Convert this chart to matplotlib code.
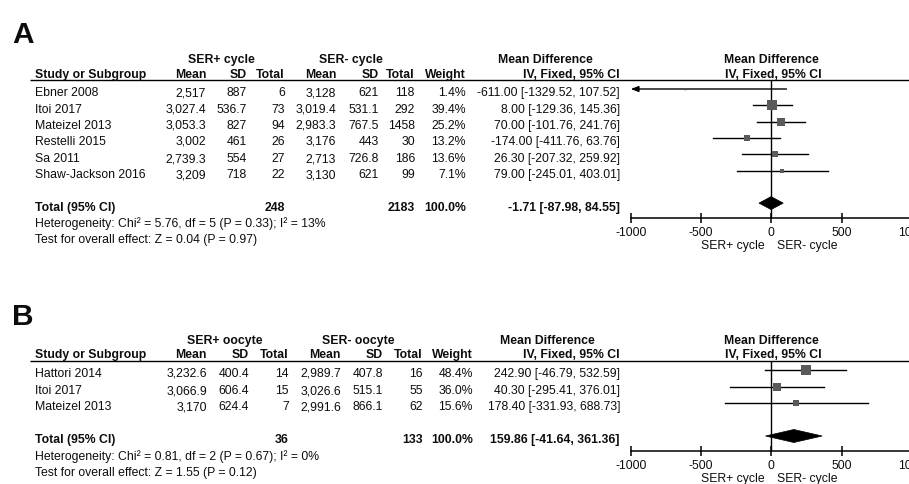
import matplotlib
matplotlib.use("Agg")
import matplotlib.pyplot as plt
from matplotlib.patches import Polygon

plt.rcParams['font.family'] = ['Liberation Sans', 'DejaVu Sans']

# ---------------- Panel A: SER+ vs SER- cycle ----------------
a_studies = ["Ebner 2008", "Itoi 2017", "Mateizel 2013", "Restelli 2015",
             "Sa 2011", "Shaw-Jackson 2016"]
a_mean_pos = [2517, 3027.4, 3053.3, 3002, 2739.3, 3209]
a_sd_pos = [887, 536.7, 827, 461, 554, 718]
a_n_pos = [6, 73, 94, 26, 27, 22]
a_mean_neg = [3128, 3019.4, 2983.3, 3176, 2713, 3130]
a_sd_neg = [621, 531.1, 767.5, 443, 726.8, 621]
a_n_neg = [118, 292, 1458, 30, 186, 99]
a_weight = [1.4, 39.4, 25.2, 13.2, 13.6, 7.1]
a_md = [-611.00, 8.00, 70.00, -174.00, 26.30, 79.00]
a_lo = [-1329.52, -129.36, -101.76, -411.76, -207.32, -245.01]
a_hi = [107.52, 145.36, 241.76, 63.76, 259.92, 403.01]
a_total_md = [-1.71, -87.98, 84.55]
a_total_n = [248, 2183]
a_groups = ["SER+ cycle", "SER- cycle"]
a_het = "Heterogeneity: Chi\u00b2 = 5.76, df = 5 (P = 0.33); I\u00b2 = 13%"
a_test = "Test for overall effect: Z = 0.04 (P = 0.97)"

# ---------------- Panel B: SER+ vs SER- oocyte ----------------
b_studies = ["Hattori 2014", "Itoi 2017", "Mateizel 2013"]
b_mean_pos = [3232.6, 3066.9, 3170]
b_sd_pos = [400.4, 606.4, 624.4]
b_n_pos = [14, 15, 7]
b_mean_neg = [2989.7, 3026.6, 2991.6]
b_sd_neg = [407.8, 515.1, 866.1]
b_n_neg = [16, 55, 62]
b_weight = [48.4, 36.0, 15.6]
b_md = [242.90, 40.30, 178.40]
b_lo = [-46.79, -295.41, -331.93]
b_hi = [532.59, 376.01, 688.73]
b_total_md = [159.86, -41.64, 361.36]
b_total_n = [36, 133]
b_groups = ["SER+ oocyte", "SER- oocyte"]
b_het = "Heterogeneity: Chi\u00b2 = 0.81, df = 2 (P = 0.67); I\u00b2 = 0%"
b_test = "Test for overall effect: Z = 1.55 (P = 0.12)"

x_ticks = [-1000, -500, 0, 500, 1000]
x_range = [-1000, 1000]
favours = ["SER+ cycle", "SER- cycle"]

W, H = 909, 484
FS = 8.8
SQUARE = "#5a5a5a"
INK = "#0d0d0d"


def num(v):
    if float(v).is_integer():
        return f"{v:,.0f}"
    return f"{v:,.1f}"


fig = plt.figure(figsize=(W / 100, H / 100), dpi=100)
bg = fig.add_axes([0, 0, 1, 1])
bg.set_xlim(0, W)
bg.set_ylim(H, 0)
bg.axis("off")


def txt(x, y, s, ha="right", bold=False, size=FS):
    # baselines snapped to whole pixels so neighbouring cells line up
    bg.text(x, round(y), s, ha=ha, va="baseline", fontsize=size,
            fontweight="bold" if bold else "normal", color=INK)


def panel(letter, letter_y, row0, step, cols, studies, mean_pos, sd_pos, n_pos,
          mean_neg, sd_neg, n_neg, weight, md, lo, hi, total_md, total_n,
          groups, het, test):
    off = 7.4
    txt(12, letter_y, letter, ha="left", bold=True, size=21.5)

    # group header and column header
    gy = row0 - 26
    hy = row0 - 11.5
    uy = row0 - 9.5
    txt(cols["g1"], gy, groups[0], ha="center", bold=True)
    txt(cols["g2"], gy, groups[1], ha="center", bold=True)
    txt(cols["mdh"], gy, "Mean Difference", ha="center", bold=True)
    txt(771, gy, "Mean Difference", ha="center", bold=True)
    txt(35, hy, "Study or Subgroup", ha="left", bold=True)
    for key, lab in [("m1", "Mean"), ("s1", "SD"), ("n1", "Total"),
                     ("m2", "Mean"), ("s2", "SD"), ("n2", "Total"),
                     ("w", "Weight"), ("ci", "IV, Fixed, 95% CI")]:
        txt(cols[key], hy, lab, bold=True)
    txt(773, hy, "IV, Fixed, 95% CI", ha="center", bold=True)
    bg.plot([30, W], [uy, uy], color="black", lw=1.0, solid_capstyle="butt")

    # study rows
    for i, name in enumerate(studies):
        y = row0 + step * i + off
        txt(35, y, name, ha="left")
        txt(cols["m1"], y, num(mean_pos[i]))
        txt(cols["s1"], y, num(sd_pos[i]))
        txt(cols["n1"], y, f"{n_pos[i]}")
        txt(cols["m2"], y, num(mean_neg[i]))
        txt(cols["s2"], y, num(sd_neg[i]))
        txt(cols["n2"], y, f"{n_neg[i]}")
        txt(cols["w"], y, f"{weight[i]:.1f}%")
        txt(cols["ci"], y, f"{md[i]:.2f} [{lo[i]:.2f}, {hi[i]:.2f}]")

    k = len(studies)
    ty = row0 + step * (k + 1)
    txt(35, ty + off, "Total (95% CI)", ha="left", bold=True)
    txt(cols["n1"], ty + off, f"{total_n[0]}", bold=True)
    txt(cols["n2"], ty + off, f"{total_n[1]}", bold=True)
    txt(cols["w"], ty + off, "100.0%", bold=True)
    txt(cols["ci"], ty + off,
        f"{total_md[0]:.2f} [{total_md[1]:.2f}, {total_md[2]:.2f}]", bold=True)
    txt(35, ty + step + off, het, ha="left")
    txt(35, ty + 2 * step + off, test, ha="left")

    # forest plot axes
    axis_y = ty + 0.9 * step
    x0, x1 = 630.7, 912.0
    ax = fig.add_axes([x0 / W, 1 - axis_y / H, (x1 - x0) / W, (axis_y - uy) / H])
    ax.set_xlim(*x_range)
    ax.set_ylim(axis_y, uy)
    ax.patch.set_alpha(0)
    for s in ["top", "left", "right"]:
        ax.spines[s].set_visible(False)
    ax.spines["bottom"].set_linewidth(1.1)
    ax.set_yticks([])
    ax.set_xticks(x_ticks)
    ax.set_xticklabels([f"{t}" for t in x_ticks])
    ax.tick_params(axis="x", direction="inout", length=7, width=1.1,
                   labelsize=FS, pad=3.2, labelcolor=INK)
    ax.axvline(0, color="black", lw=1.0, zorder=1)

    for i in range(k):
        y = row0 + step * i
        left = max(lo[i], x_range[0])
        if lo[i] < x_range[0]:
            ax.annotate("", xy=(x_range[0], y), xytext=(hi[i], y),
                        arrowprops=dict(arrowstyle="-|>,head_length=0.45,head_width=0.17",
                                        color="black", lw=1.0, shrinkA=0, shrinkB=0),
                        annotation_clip=False)
        else:
            ax.plot([left, hi[i]], [y, y], color="black", lw=1.0, zorder=2)
        side = 1.45 * weight[i] ** 0.5
        ax.plot([md[i]], [y], marker="s", ms=side * 0.72, color=SQUARE,
                mec=SQUARE, mew=0, zorder=3)

    hh = 6.5
    est, dl, dh = total_md
    ax.add_patch(Polygon([[dl, ty], [est, ty - hh], [dh, ty], [est, ty + hh]],
                         closed=True, facecolor="black", edgecolor="black",
                         lw=0.5, zorder=4))

    fy = axis_y + 31.5
    txt(765, fy, favours[0], ha="right")
    txt(777, fy, favours[1], ha="left")


cols_a = dict(m1=206, s1=247, n1=285, m2=336, s2=379, n2=415, w=466, ci=620,
              g1=221, g2=351, mdh=545)
cols_b = dict(m1=207, s1=249, n1=289, m2=341, s2=383, n2=423, w=473, ci=620,
              g1=225, g2=358, mdh=547)

panel("A", 43.3, 89.0, 16.3, cols_a, a_studies, a_mean_pos, a_sd_pos, a_n_pos,
      a_mean_neg, a_sd_neg, a_n_neg, a_weight, a_md, a_lo, a_hi, a_total_md,
      a_total_n, a_groups, a_het, a_test)
panel("B", 325.0, 370.0, 16.5, cols_b, b_studies, b_mean_pos, b_sd_pos, b_n_pos,
      b_mean_neg, b_sd_neg, b_n_neg, b_weight, b_md, b_lo, b_hi, b_total_md,
      b_total_n, b_groups, b_het, b_test)

fig.savefig("out.png", dpi=100)
